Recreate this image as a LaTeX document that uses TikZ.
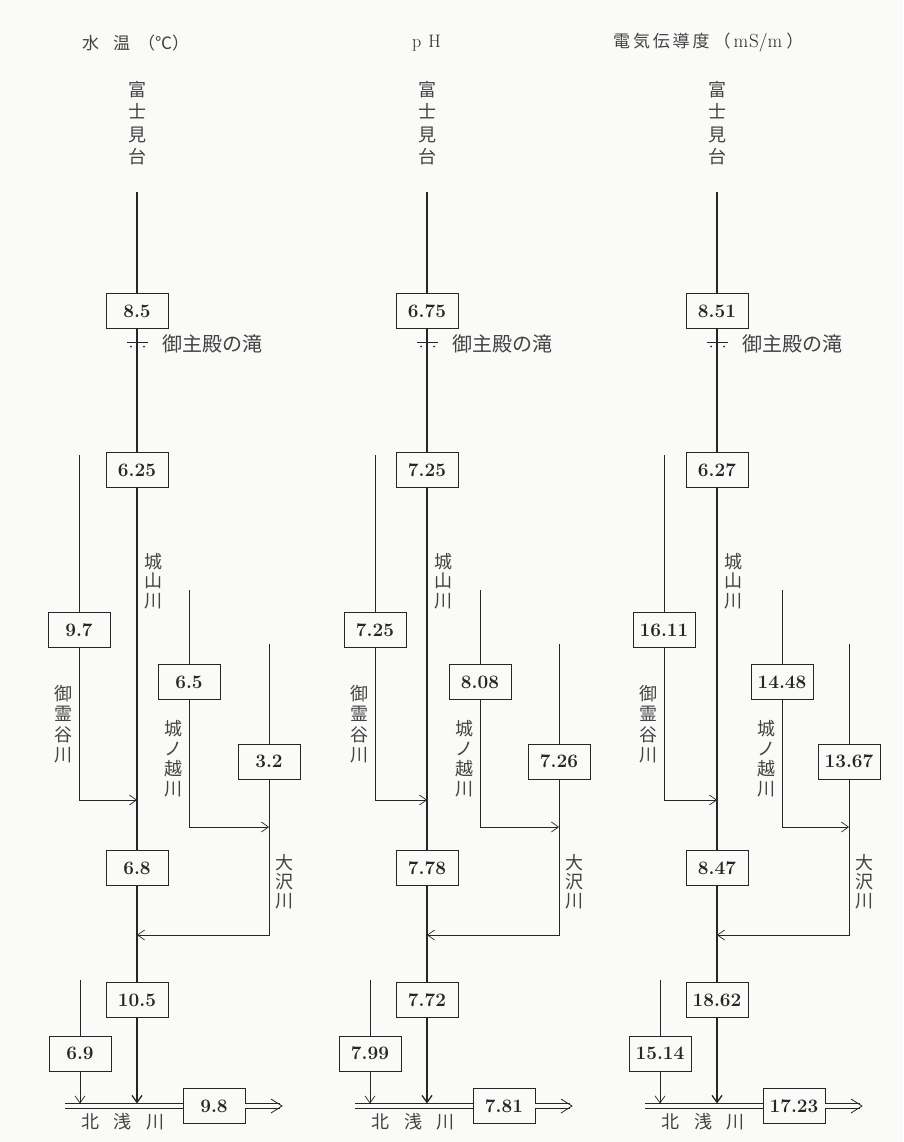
\documentclass[tikz,border=0pt]{standalone}
\usepackage{fontspec}
\newfontfamily\jp{Noto Sans CJK JP}
\usetikzlibrary{arrows.meta}
\definecolor{ink}{RGB}{38,38,38}
\definecolor{txt}{RGB}{66,66,66}
\definecolor{paper}{RGB}{250,250,248}
\tikzset{
 valbox/.style={draw=ink, line width=0.9pt, minimum width=62pt, minimum height=35pt, inner sep=0pt,
   font=\bfseries\fontsize{19}{21}\selectfont, text=ink, fill=paper},
 mainline/.style={draw=ink, line width=1.3pt},
 tribline/.style={draw=ink, line width=0.7pt},
 tip/.style={-{Straight Barb[length=7pt,width=10pt]}},
 vlab/.style={font=\jp\fontsize{18}{20}\selectfont, text=txt, align=center, inner sep=0pt},
 hlab/.style={font=\jp\fontsize{18}{20}\selectfont, text=txt, inner sep=0pt},
 dline/.style={draw=ink, line width=0.8pt, double=paper, double distance=3.5pt},
 fall/.style={draw=ink, line width=0.8pt},
 chev/.style={draw=ink, line width=0.8pt, line join=miter},
}
% #1 origin x, #2 A, #3 B, #4 T1, #5 T2, #6 T3, #7 C, #8 D, #9 T4 ; \p prefix, \ta \tb trib x, \vout outflow
\newcommand\riverpanel[9]{%
\begin{scope}[xshift=#1pt]
 \node[vlab, font=\jp\fontsize{18}{22.5}\selectfont] (\p top) at (0,123) {富\\士\\見\\台};
 \coordinate (\p S) at (0,192);
 \node[valbox] (\p A) at (0,311) {#2};
 \node[valbox] (\p B) at (0,470) {#3};
 \node[valbox] (\p C) at (0,868) {#7};
 \node[valbox] (\p D) at (0,1000) {#8};
 \coordinate (\p J1) at (0,800);
 \coordinate (\p J3) at (0,935);
 \coordinate (\p J4) at (0,1103.5);
 \draw[mainline] (\p S) -- (\p A.north);
 \draw[mainline] (\p A.south) -- (\p B.north);
 \draw[mainline] (\p B.south) -- (\p C.north);
 \draw[mainline] (\p C.south) -- (\p D.north);
 \draw[mainline, tip] (\p D.south) -- (\p J4);
 % waterfall
 \draw[fall] (-10,342) -- (11,342);
 \fill[ink] (-6,346.5) circle (1pt) (7,346.5) circle (1pt);
 \node[hlab, font=\jp\fontsize{20}{22}\selectfont, anchor=west] (\p W) at (25,344) {御主殿の滝};
 \node[vlab, font=\jp\fontsize{18}{19.5}\selectfont] (\p L0) at (16,581) {城\\山\\川};
 % tributary 1
 \coordinate (\p T1s) at (\ta,455);
 \node[valbox] (\p T1) at (\ta,630) {#4};
 \coordinate (\p T1c) at (\ta,800);
 \draw[tribline] (\p T1s) -- (\p T1.north);
 \draw[tribline, tip] (\p T1.south) -- (\p T1c) -- (\p J1);
 \node[vlab, font=\jp\fontsize{18}{20.5}\selectfont] (\p L1) at (\ta-16,724) {御\\霊\\谷\\川};
 % tributary 2
 \coordinate (\p T2s) at (\tb,590);
 \node[valbox] (\p T2) at (\tb,682) {#5};
 \coordinate (\p T2c) at (\tb,827);
 \coordinate (\p J2) at (132,827);
 \draw[tribline] (\p T2s) -- (\p T2.north);
 \draw[tribline, tip] (\p T2.south) -- (\p T2c) -- (\p J2);
 \node[vlab, font=\jp\fontsize{18}{20}\selectfont] (\p L2) at (\tb-16,759) {城\\ノ\\越\\川};
 % tributary 3
 \coordinate (\p T3s) at (132,644);
 \node[valbox] (\p T3) at (132,761.5) {#6};
 \coordinate (\p T3c) at (132,935);
 \draw[tribline] (\p T3s) -- (\p T3.north);
 \draw[tribline, tip] (\p T3.south) -- (\p T3c) -- (\p J3);
 \node[vlab, font=\jp\fontsize{18}{19}\selectfont] (\p L3) at (147,882) {大\\沢\\川};
 % tributary 4
 \coordinate (\p T4s) at (-57,980);
 \node[valbox] (\p T4) at (-57,1053.5) {#9};
 \coordinate (\p J5) at (-57,1103.5);
 \draw[tribline] (\p T4s) -- (\p T4.north);
 \draw[tribline, tip] (\p T4.south) -- (\p J5);
 % Kitaasa river
 \coordinate (\p Ls) at (-72,1106);
 \node[valbox] (\p O) at (77,1106) {\vout};
 \coordinate (\p Le) at (143,1106);
 \draw[dline] (\p Ls) -- (\p O.west);
 \draw[dline] (\p O.east) -- (\p Le);
 \draw[chev] ([shift={(-9,-7)}]\p Le) -- ([shift={(2,0)}]\p Le) -- ([shift={(-9,7)}]\p Le);
 \node[hlab] (\p L4) at (-14,1122) {北\hspace{15pt}浅\hspace{15pt}川};
\end{scope}}
\begin{document}
\begin{tikzpicture}[x=1pt,y=-1pt]
 \fill[paper] (0,0) rectangle (903,1142);
 \node[hlab, font=\jp\fontsize{17}{20}\selectfont, anchor=west] (h1) at (82,43) {水\hspace{14pt}温\hspace{8pt}（℃）};
 \node[inner sep=0pt, anchor=west, text=ink, font=\fontsize{18}{20}\selectfont] (h2) at (412,43) {p\hspace{7pt}H};
 \node[hlab, font=\jp\fontsize{17}{20}\selectfont, anchor=west] (h3) at (613,43) {電\,気\,伝\,導\,度\hspace{4pt}（{\rmfamily\color{ink}\fontsize{19}{20}\selectfont \hspace{3pt}m\hspace{1pt}S/m\hspace{4pt}}）};
 \def\p{a}\def\ta{-58}\def\tb{52}\def\vout{9.8}
 \riverpanel{137}{8.5}{6.25}{9.7}{6.5}{3.2}{6.8}{10.5}{6.9}
 \def\p{b}\def\ta{-52}\def\tb{53}\def\vout{7.81}
 \riverpanel{427}{6.75}{7.25}{7.25}{8.08}{7.26}{7.78}{7.72}{7.99}
 \def\p{c}\def\ta{-53}\def\tb{65}\def\vout{17.23}
 \riverpanel{717}{8.51}{6.27}{16.11}{14.48}{13.67}{8.47}{18.62}{15.14}
\end{tikzpicture}
\end{document}
